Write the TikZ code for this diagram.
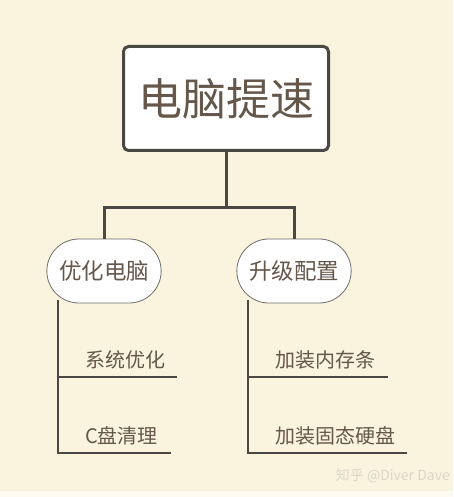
\documentclass[tikz,border=0pt]{standalone}
\usepackage{fontspec}
\newfontfamily\cjk{Noto Sans CJK SC}
\usetikzlibrary{shapes.misc}
\definecolor{bg}{HTML}{FAF3DE}
\definecolor{linegray}{HTML}{4A4843}
\definecolor{textbrown}{HTML}{65574A}
\definecolor{markgray}{HTML}{DDD6C8}
\tikzset{
	rootbox/.style={draw=linegray, line width=3pt, fill=white, rounded corners=5pt, minimum width=205pt, minimum height=104pt, text=textbrown, font=\cjk\fontsize{44}{44}\selectfont},
	pill/.style={rounded rectangle, draw=linegray!80, line width=0.8pt, fill=white, minimum width=121pt, minimum height=64pt, text=textbrown, font=\cjk\fontsize{22.5}{22.5}\selectfont},
	leaf/.style={anchor=west, inner sep=0pt, text=textbrown, font=\cjk\fontsize{20}{20}\selectfont},
	thick link/.style={draw=linegray, line width=3pt},
	thin link/.style={draw=linegray, line width=1.4pt}
}
\begin{document}
\begin{tikzpicture}[x=1pt,y=-1pt]
	\fill[bg] (0,0) rectangle (453,491);
	\fill[bg!40] (0,491) rectangle (453,497);
	\useasboundingbox (0,0) rectangle (453,497);
	% top
	\node[rootbox] (root) at (226,98.5) {电脑提速};
	\node[pill] (opt) at (104,271) {优化电脑};
	\node[pill] (upg) at (294,271) {升级配置};
	\coordinate (join) at (226,207);
	\draw[thick link] (root.south) -- (join);
	\draw[thick link] (opt.north) |- (join) -| (upg.north);
	% leaves
	\node[leaf] (sys) at (85,360) {系统优化};
	\node[leaf] (disk) at (85,436) {C盘清理};
	\node[leaf] (ram) at (275,360) {加装内存条};
	\node[leaf] (ssd) at (275,436) {加装固态硬盘};
	\coordinate (optTop) at (58,300);
	\coordinate (optBot) at (58,453);
	\coordinate (upgTop) at (248,300);
	\coordinate (upgBot) at (248,453);
	\coordinate (sysEnd) at (177,377);
	\coordinate (diskEnd) at (171,453);
	\coordinate (ramEnd) at (388,377);
	\coordinate (ssdEnd) at (407,453);
	\draw[thin link] (optTop) -- (optBot) -- (diskEnd);
	\draw[thin link] (optTop |- sysEnd) -- (sysEnd);
	\draw[thin link] (upgTop) -- (upgBot) -- (ssdEnd);
	\draw[thin link] (upgTop |- ramEnd) -- (ramEnd);
	% watermark
	\node[text=markgray, font=\cjk\fontsize{14}{14}\selectfont, anchor=east, inner sep=0pt] (mark) at (450,476) {知乎 @Diver Dave};
\end{tikzpicture}
\end{document}
